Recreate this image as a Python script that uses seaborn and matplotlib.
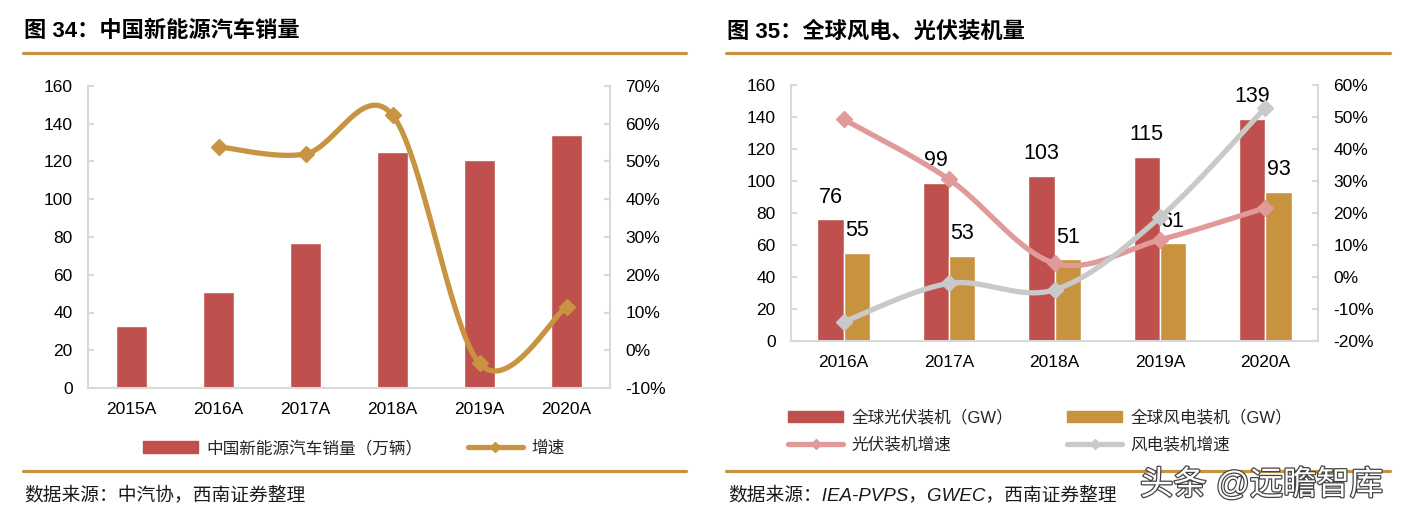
import numpy as np
import pandas as pd
import matplotlib
matplotlib.use("Agg")
import matplotlib.pyplot as plt
import seaborn as sns
from matplotlib.lines import Line2D
from matplotlib.patches import Patch
import matplotlib.patheffects as pe

# ---------------- data ----------------
years1 = ["2015A", "2016A", "2017A", "2018A", "2019A", "2020A"]
nev_sales = [33, 51, 77, 125, 121, 134]            # 万辆
nev_growth = [np.nan, 53.9, 52.0, 62.3, -3.5, 11.5]  # %

years2 = ["2016A", "2017A", "2018A", "2019A", "2020A"]
pv_install = [76, 99, 103, 115, 139]     # GW
wind_install = [55, 53, 51, 61, 93]      # GW
pv_growth = [49.3, 30.5, 4.3, 11.6, 21.6]      # %
wind_growth = [-14.0, -2.0, -4.0, 18.6, 52.9]  # %

left_ticks = list(range(0, 161, 20))
right_ticks1 = list(range(-10, 71, 10))
right_ticks2 = list(range(-20, 61, 10))

title1 = "图 34：中国新能源汽车销量"
title2 = "图 35：全球风电、光伏装机量"
source1 = "数据来源：中汽协，西南证券整理"
source2 = "数据来源：IEA-PVPS，GWEC，西南证券整理"
lab_sales = "中国新能源汽车销量（万辆）"
lab_growth = "增速"
lab_pv = "全球光伏装机（GW）"
lab_wind = "全球风电装机（GW）"
lab_pvg = "光伏装机增速"
lab_windg = "风电装机增速"
watermark = "头条 @远瞻智库"

# ---------------- style ----------------
RED = "#C0504D"
GOLD = "#C8933F"
GOLD_LINE = "#C99442"
PINK = "#E09A9A"
GRAY = "#C9C9C9"
AXC = "#D9D9D9"

sns.set_style("white")
FAM = ["Liberation Sans", "Noto Sans CJK SC", "DejaVu Sans"]
plt.rcParams["font.family"] = FAM
plt.rcParams["axes.unicode_minus"] = False

W, H = 1411, 518
fig = plt.figure(figsize=(W / 100, H / 100), dpi=100)
fig.patch.set_facecolor("white")


def fx(x):
    return x / W


def fy(y):
    return 1 - y / H


def smooth(xs, ys, n=40):
    """Excel-like smoothed line (Catmull-Rom Bezier) through the data points."""
    pts = np.column_stack([xs, ys]).astype(float)
    m = len(pts)
    out = []
    t = np.linspace(0, 1, n)[:, None]
    for i in range(m - 1):
        p0 = pts[max(i - 1, 0)]
        p1 = pts[i]
        p2 = pts[i + 1]
        p3 = pts[min(i + 2, m - 1)]
        c1 = p1 + (p2 - p0) / 6
        c2 = p2 - (p3 - p1) / 6
        seg = (1 - t) ** 3 * p1 + 3 * (1 - t) ** 2 * t * c1 + 3 * (1 - t) * t ** 2 * c2 + t ** 3 * p2
        out.append(seg if i == 0 else seg[1:])
    return np.vstack(out)


def style_axes(ax, ax2, n, rt):
    ax.set_xlabel("")
    ax.set_ylabel("")
    ax2.set_ylabel("")
    for s in ax.spines.values():
        s.set_color(AXC)
        s.set_linewidth(1.5)
    for s in ax2.spines.values():
        s.set_color(AXC)
        s.set_linewidth(1.5)
    ax.spines["top"].set_visible(False)
    ax.spines["right"].set_visible(False)
    ax2.spines["top"].set_visible(False)
    ax2.spines["left"].set_visible(False)
    ax2.spines["bottom"].set_visible(False)
    ax.set_ylim(0, 160)
    ax.set_yticks(left_ticks)
    ax2.set_ylim(rt[0], rt[-1])
    ax2.set_yticks(rt)
    ax2.set_yticklabels([f"{v}%" for v in rt])
    ax.set_xlim(-0.5, n - 0.5)
    ax.tick_params(axis="y", direction="in", length=4, width=1.5, color=AXC,
                   labelsize=12.5, pad=11, labelcolor="black")
    ax2.tick_params(axis="y", direction="in", length=4, width=1.5, color=AXC,
                    labelsize=12.5, pad=11, labelcolor="black")
    ax.tick_params(axis="x", which="major", length=0, labelsize=12.5, pad=10,
                   labelcolor="black")
    ax.set_xticks(np.arange(-0.5, n, 1.0), minor=True)
    ax.tick_params(axis="x", which="minor", direction="in", length=5, width=1.5,
                   color=AXC)
    ax.grid(False)
    ax2.grid(False)


# ---------------- left panel ----------------
df1 = pd.DataFrame({"year": years1, "sales": nev_sales, "growth": nev_growth})
ax1 = fig.add_axes([fx(88), 1 - 388 / H, fx(522), 302 / H])
sns.barplot(data=df1, x="year", y="sales", color=RED, width=0.35,
            saturation=1, ax=ax1)
ax1b = ax1.twinx()
valid = df1["growth"].notna().to_numpy()
xg = np.arange(len(years1))[valid]
yg = df1["growth"].to_numpy()[valid]
curve = smooth(xg, yg)
sns.lineplot(x=curve[:, 0], y=curve[:, 1], sort=False, estimator=None,
             color=GOLD_LINE, lw=3.8, ax=ax1b)
ax1b.plot(xg, yg, ls="none", marker="D", ms=8, color=GOLD_LINE)
style_axes(ax1, ax1b, len(years1), right_ticks1)

# ---------------- right panel ----------------
df2 = pd.DataFrame({
    "year": years2 * 2,
    "value": pv_install + wind_install,
    "type": [lab_pv] * len(years2) + [lab_wind] * len(years2),
})
ax2 = fig.add_axes([fx(791), 1 - 341 / H, fx(527), 256 / H])
sns.barplot(data=df2, x="year", y="value", hue="type", palette=[RED, GOLD],
            width=0.5, saturation=1, legend=False, ax=ax2)
for cont in ax2.containers:
    for bar in cont:
        ax2.annotate(f"{bar.get_height():.0f}",
                     (bar.get_x() + bar.get_width() / 2, bar.get_height()),
                     xytext=(0, 16), textcoords="offset points",
                     ha="center", va="center", fontsize=15.5, color="black")
ax2b = ax2.twinx()
x2 = np.arange(len(years2))
for vals, col in [(pv_growth, PINK), (wind_growth, GRAY)]:
    c = smooth(x2, vals)
    sns.lineplot(x=c[:, 0], y=c[:, 1], sort=False, estimator=None,
                 color=col, lw=3.8, ax=ax2b)
    ax2b.plot(x2, vals, ls="none", marker="D", ms=8, color=col)
style_axes(ax2, ax2b, len(years2), right_ticks2)

# ---------------- titles, rules, sources ----------------
title_kw = dict(fontsize=16, fontweight="bold", color="black", va="center",
                ha="left", family=["Liberation Sans", "Noto Sans CJK SC", "DejaVu Sans"])
fig.text(fx(24), fy(31.5), title1, **title_kw)
fig.text(fx(727), fy(31.5), title2, **title_kw)
for (a, b) in [(23, 686), (726, 1390)]:
    for y in (53, 471):
        fig.add_artist(Line2D([fx(a), fx(b)], [fy(y), fy(y)],
                              transform=fig.transFigure, color=GOLD, lw=2.3))
src_kw = dict(fontsize=13.5, color="#1a1a1a", va="center", ha="left",
              style="italic")
fig.text(fx(24), fy(495), source1, **src_kw)
fig.text(fx(728), fy(495), source2, **src_kw)

wm = fig.text(fx(1140), fy(485), watermark, fontsize=24, color="white",
              va="center", ha="left",
              family=["Liberation Sans", "Noto Sans CJK SC", "DejaVu Sans"])
wm.set_path_effects([pe.Stroke(linewidth=1.8, foreground="#444444"), pe.Normal()])

# ---------------- legends ----------------
leg_kw = dict(frameon=False, borderpad=0, borderaxespad=0, handlelength=3.3,
              handletextpad=0.5, fontsize=12, loc="center left",
              bbox_transform=fig.transFigure, labelspacing=0.7)


def line_handle(col):
    return Line2D([], [], color=col, lw=3.8, marker="D", ms=5.5)


fig.legend(handles=[Patch(color=RED)], labels=[lab_sales],
           bbox_to_anchor=(fx(143), fy(448)), **leg_kw)
fig.legend(handles=[line_handle(GOLD_LINE)], labels=[lab_growth],
           bbox_to_anchor=(fx(468), fy(448)), **leg_kw)
fig.legend(handles=[Patch(color=RED), line_handle(PINK)],
           labels=[lab_pv, lab_pvg],
           bbox_to_anchor=(fx(788), fy(431)), **leg_kw)
fig.legend(handles=[Patch(color=GOLD), line_handle(GRAY)],
           labels=[lab_wind, lab_windg],
           bbox_to_anchor=(fx(1067), fy(431)), **leg_kw)

fig.savefig("out.png", dpi=100, facecolor="white")
